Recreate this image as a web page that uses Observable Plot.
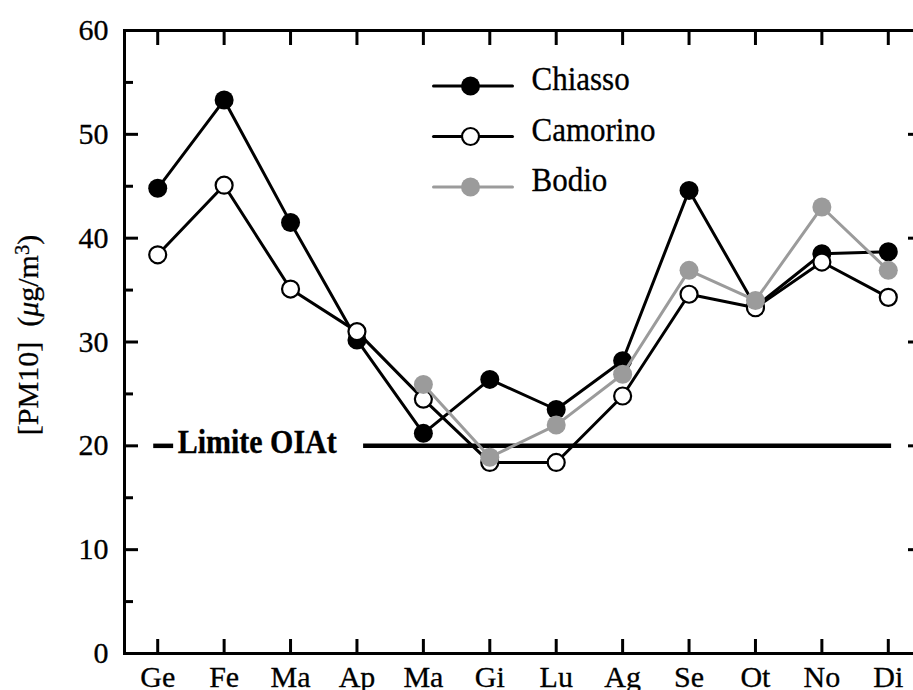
<!DOCTYPE html>
<html><head><meta charset="utf-8">
<script src="https://cdn.jsdelivr.net/npm/d3@7"></script>
<script src="https://cdn.jsdelivr.net/npm/@observablehq/plot@0.6"></script>
<style>body{margin:0;background:#fff} svg{display:block} svg text{stroke:black;stroke-width:0.3px}</style>
</head><body><div id="chart"></div>
<script>
const months = ["Ge","Fe","Ma","Ap","Ma","Gi","Lu","Ag","Se","Ot","No","Di"];
const chiasso  = [44.8,53.3,41.5,30.2,21.2,26.4,23.5,28.2,44.6,33.4,38.5,38.7];
const camorino = [38.4,45.1,35.1,31.0,24.5,18.4,18.4,24.8,34.6,33.3,37.7,34.3];
const bodio    = [null,null,null,null,25.9,18.9,22.0,26.9,36.9,34.0,43.0,36.9];
const seriesNames = ["Chiasso","Camorino","Bodio"];
const limitValue = 20;
const limitLabel = "Limite OIAt";
const yLabel = "[PM10]\u2002(μg/m3)";
const yTicks = [0,10,20,30,40,50,60];
const yMinorTicks = [5,15,25,35,45,55];

const seriesValues = [chiasso, camorino, bodio];
const grey = "#9b9b9b";
const styles = [
  {line: "black", fill: "black", stroke: "none", r: 9.5},
  {line: "black", fill: "white", stroke: "black", r: 8.5},
  {line: grey, fill: grey, stroke: "none", r: 9.5}
];
const rows = seriesValues.map((vals, s) =>
  vals.map((v, i) => ({i, month: months[i], value: v, series: seriesNames[s]})).filter(d => d.value != null));

const idx = d3.range(months.length);
const LW = 3;
const marks = [];
// limit line
marks.push(Plot.ruleY([limitValue], {x1: -0.06, x2: 0.24, strokeWidth: 4.5, stroke: "black"}));
marks.push(Plot.ruleY([limitValue], {x1: 3.1, x2: 11.05, strokeWidth: 4.5, stroke: "black"}));
marks.push(Plot.text([limitLabel], {x: 0.3, y: limitValue, text: d => d, textAnchor: "start", lineAnchor: "middle", fontWeight: "bold", fontSize: 30, dy: -4, fill: "black", className: "stretch"}));
// series
rows.forEach((data, s) => {
  marks.push(Plot.line(data, {x: "i", y: "value", stroke: styles[s].line, strokeWidth: LW}));
  marks.push(Plot.dot(data, {x: "i", y: "value", r: styles[s].r, fill: styles[s].fill, stroke: styles[s].stroke, strokeWidth: 2.2}));
});
// legend
const lineShape = {draw(context, l) { context.moveTo(0, 0); context.lineTo(0, -l); }};
seriesNames.forEach((name, s) => {
  const dy = 55.5 + s * 50.5;
  marks.push(Plot.vector([name], {frameAnchor: "top-left", dx: 309, dy, rotate: 90, length: 79, anchor: "start", shape: lineShape, stroke: styles[s].line, strokeWidth: LW}));
  marks.push(Plot.dot([name], {x: null, y: null, frameAnchor: "top-left", dx: 346, dy, r: styles[s].r, fill: styles[s].fill, stroke: styles[s].stroke, strokeWidth: 2.2}));
  marks.push(Plot.text([name], {frameAnchor: "top-left", dx: 407, dy: dy - 7, text: d => d, textAnchor: "start", lineAnchor: "middle", fontSize: 31, fill: "black", className: "stretch"}));
});
// axes
marks.push(Plot.axisY(yTicks, {tickSize: -14, tickPadding: 30, fontSize: 30, strokeWidth: LW, label: null}));
marks.push(Plot.axisY(yMinorTicks, {tickSize: -9, tickFormat: () => "", strokeWidth: LW, label: null}));
marks.push(Plot.axisY(yTicks, {anchor: "right", tickSize: -14, tickFormat: () => "", strokeWidth: LW, label: null}));
marks.push(Plot.axisY(yMinorTicks, {anchor: "right", tickSize: -9, tickFormat: () => "", strokeWidth: LW, label: null}));
marks.push(Plot.axisX(idx, {tickSize: -14, tickPadding: 26, tickFormat: i => months[i], fontSize: 30, strokeWidth: LW, label: null}));
marks.push(Plot.axisX(idx, {anchor: "top", tickSize: -14, tickFormat: () => "", strokeWidth: LW, label: null}));
marks.push(Plot.frame({stroke: "black", strokeWidth: LW}));
marks.push(Plot.text([yLabel], {frameAnchor: "left", dx: -96, dy: -7, rotate: -90, text: d => d, textAnchor: "middle", lineAnchor: "middle", fontSize: 30, fill: "black"}));

const chart = Plot.plot({
  width: 913, height: 690,
  marginLeft: 124, marginRight: -8, marginTop: 30, marginBottom: 37,
  x: {type: "linear", domain: [-0.5, 11.5]},
  y: {domain: [0, 60]},
  style: {fontFamily: "'Liberation Serif', 'Times New Roman', serif", background: "white", color: "black", fontSize: "30px"},
  marks
});
document.getElementById("chart").appendChild(chart);
// rich text for y label (italic mu, superscript 3)
d3.select(chart).selectAll("text").filter(function() { return this.textContent === yLabel; }).each(function() {
  const t = d3.select(this);
  t.text(null);
  t.append("tspan").text("[PM10]\u2002(");
  t.append("tspan").attr("font-style", "italic").text("μ");
  t.append("tspan").text("g/m");
  t.append("tspan").attr("font-size", "0.68em").attr("dy", "-0.45em").text("3");
  t.append("tspan").attr("dy", "0.306em").text(")");
});
// slightly taller glyphs for legend and limit label, as in the reference
d3.select(chart).selectAll(".stretch text").each(function() {
  const b = this.getBBox();
  const cy = b.y + b.height / 2;
  const prev = this.getAttribute("transform") || "";
  this.setAttribute("transform", `${prev} translate(0,${cy}) scale(1,1.12) translate(0,${-cy})`);
});
</script>
</body></html>
